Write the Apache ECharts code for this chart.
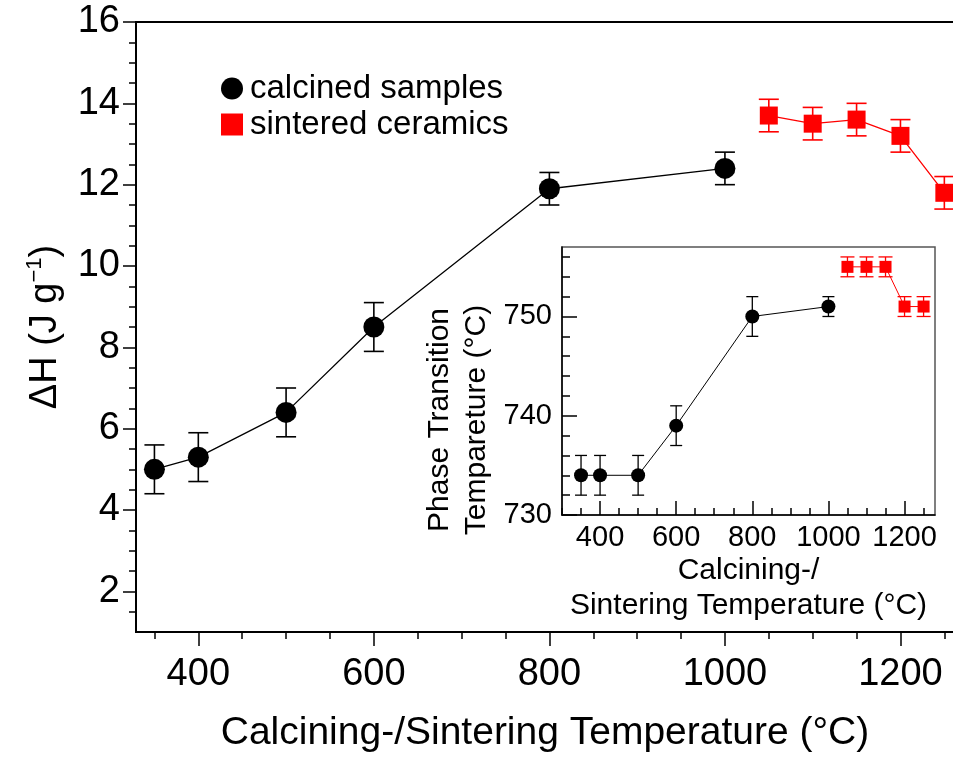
<!DOCTYPE html>
<html>
<head>
<meta charset="utf-8">
<script src="https://cdn.jsdelivr.net/npm/echarts@6/dist/echarts.min.js"></script>
<style>
  html, body { margin: 0; padding: 0; background: #fff; }
  #chart { width: 953px; height: 760px; }
</style>
</head>
<body>
<div id="chart"></div>
<script>
// main plot: enthalpy of the transition
var calcT = [350, 400, 500, 600, 800, 1000];
var calcDH = [5.0, 5.3, 6.4, 8.5, 11.9, 12.4];
var calcDHErr = [0.6, 0.6, 0.6, 0.6, 0.4, 0.4];
var sintT = [1050, 1100, 1150, 1200, 1250];
var sintDH = [13.7, 13.5, 13.6, 13.2, 11.8];
var sintDHErr = [0.4, 0.4, 0.4, 0.4, 0.4];

// inset: phase transition temperature
var calcTc = [734, 734, 734, 739, 750, 751];
var calcTcErr = [2, 2, 2, 2, 2, 1];
var sintTc = [755, 755, 755, 751, 751];
var sintTcErr = [1, 1, 1, 1, 1];

// ticks
var mainXMajor = [400, 600, 800, 1000, 1200];
var mainXMinor = [350, 450, 500, 550, 650, 700, 750, 850, 900, 950, 1050, 1100, 1150, 1250];
var mainYMajor = [2, 4, 6, 8, 10, 12, 14, 16];
var insetXMajor = [400, 600, 800, 1000, 1200];
var insetXMinor = [300, 350, 450, 500, 550, 650, 700, 750, 850, 900, 950, 1050, 1100, 1150, 1250];
var insetYMajor = [730, 740, 750];

function minorSteps(from, to, step, majors) {
    var out = [];
    for (var v = from; v <= to + 1e-9; v += step) {
        var r = Math.round(v * 100) / 100;
        if (majors.indexOf(r) < 0) out.push(r);
    }
    return out;
}
var mainYMinor = minorSteps(1.5, 16, 0.5, mainYMajor);
var insetYMinor = minorSteps(732, 756, 2, insetYMajor);

var FONT = '"Liberation Sans", Arial, sans-serif';

function pairs(xs, ys) {
    return xs.map(function (x, i) { return [x, ys[i]]; });
}
function errs(xs, ys, es) {
    return xs.map(function (x, i) { return [x, ys[i] - es[i], ys[i] + es[i]]; });
}

function errorBar(capW, color, width) {
    return function (params, api) {
        var lo = api.coord([api.value(0), api.value(1)]);
        var hi = api.coord([api.value(0), api.value(2)]);
        var h = capW / 2;
        var st = { stroke: color, lineWidth: width };
        return {
            type: 'group',
            children: [
                { type: 'line', shape: { x1: lo[0], y1: lo[1], x2: hi[0], y2: hi[1] }, style: st },
                { type: 'line', shape: { x1: lo[0] - h, y1: lo[1], x2: lo[0] + h, y2: lo[1] }, style: st },
                { type: 'line', shape: { x1: hi[0] - h, y1: hi[1], x2: hi[0] + h, y2: hi[1] }, style: st }
            ]
        };
    };
}

function valAxis(gi, pos, min, max, ticks, len, opts) {
    var a = {
        type: 'value', gridIndex: gi, position: pos, min: min, max: max,
        splitLine: { show: false },
        axisLine: { show: false },
        axisTick: { show: true, customValues: ticks, length: len, inside: opts.inside,
            lineStyle: { color: '#000', width: opts.tw || 1.5 } },
        axisLabel: { show: false }
    };
    if (opts.labels) {
        a.axisLine = { show: true, onZero: false, lineStyle: { color: '#000', width: opts.lw || 2 } };
        a.axisLabel = { show: true, customValues: ticks, color: '#000', fontFamily: FONT,
            fontSize: opts.fs, margin: opts.margin,
            formatter: function (v) { return String(v); } };
    }
    if (opts.name) {
        a.name = opts.name;
        a.nameLocation = 'middle';
        a.nameGap = opts.nameGap;
        a.nameTextStyle = opts.nameStyle;
    }
    return a;
}

var chart = echarts.init(document.getElementById('chart'));

var option = {
    animation: false,
    backgroundColor: '#fff',
    grid: [
        { left: 136, top: 22, width: 818, height: 610, show: true, borderColor: '#000', borderWidth: 2,
          outerBoundsMode: 'none', containLabel: false },
        { left: 562, top: 247, width: 373, height: 268, show: true, backgroundColor: '#fff',
          borderColor: '#555', borderWidth: 1.5, outerBoundsMode: 'none', containLabel: false }
    ],
    legend: {
        left: 216, top: 67, orient: 'vertical',
        itemWidth: 22, itemHeight: 22, itemGap: 3,
        textStyle: { fontFamily: FONT, fontSize: 33, color: '#000', lineHeight: 33, padding: [0, 0, 0, 2] },
        data: [
            { name: 'calcined samples', icon: 'circle' },
            { name: 'sintered ceramics', icon: 'rect' }
        ]
    },
    xAxis: [
        valAxis(0, 'bottom', 329, 1261, mainXMajor, 14, {
            labels: true, fs: 38, margin: 24, inside: false,
            name: 'Calcining-/Sintering Temperature (°C)', nameGap: 82,
            nameStyle: { fontFamily: FONT, fontSize: 39, color: '#000' }
        }),
        valAxis(0, 'bottom', 329, 1261, mainXMinor, 7, { inside: false }),
        valAxis(1, 'bottom', 300, 1280, insetXMajor, 14, {
            labels: true, fs: 29, margin: 8, inside: true, lw: 1.5,
            name: 'Calcining-/\nSintering Temperature (°C)', nameGap: 36,
            nameStyle: { fontFamily: FONT, fontSize: 30, color: '#000', lineHeight: 35 }
        }),
        valAxis(1, 'bottom', 300, 1280, insetXMinor, 7, { inside: true })
    ],
    yAxis: [
        valAxis(0, 'left', 1, 16, mainYMajor, 13, {
            labels: true, fs: 38, margin: 16, inside: false,
            name: '{a|ΔH (J g}{s|−1}{a|)}', nameGap: 68,
            nameStyle: {
                rich: {
                    a: { fontFamily: FONT, fontSize: 38, color: '#000', lineHeight: 44 },
                    s: { fontFamily: FONT, fontSize: 22, color: '#000', lineHeight: 22, verticalAlign: 'top' }
                }
            }
        }),
        valAxis(0, 'left', 1, 16, mainYMinor, 7, { inside: false }),
        valAxis(1, 'left', 730, 757, insetYMajor, 15, { labels: true, fs: 29, margin: 10, inside: true, lw: 1.5 }),
        valAxis(1, 'left', 730, 757, insetYMinor, 8, { inside: true })
    ],
    graphic: [
        {
            type: 'text', x: 458, y: 420, rotation: Math.PI / 2,
            style: {
                text: 'Phase Transition\nTempareture (°C)',
                fontFamily: FONT, fontSize: 30, lineHeight: 37,
                fill: '#000', align: 'center', verticalAlign: 'middle'
            }
        }
    ],
    series: [
        {
            type: 'custom', name: 'calcErr', xAxisIndex: 0, yAxisIndex: 0, z: 1,
            renderItem: errorBar(20, '#000', 1.6), data: errs(calcT, calcDH, calcDHErr)
        },
        {
            type: 'custom', name: 'sintErr', xAxisIndex: 0, yAxisIndex: 0, z: 1,
            renderItem: errorBar(20, '#ff0000', 1.6), data: errs(sintT, sintDH, sintDHErr)
        },
        {
            type: 'line', name: 'calcined samples', xAxisIndex: 0, yAxisIndex: 0, z: 3,
            symbol: 'circle', symbolSize: 21, color: '#000',
            lineStyle: { color: '#000', width: 1.3 },
            data: pairs(calcT, calcDH)
        },
        {
            type: 'line', name: 'sintered ceramics', xAxisIndex: 0, yAxisIndex: 0, z: 3,
            symbol: 'rect', symbolSize: 18, color: '#ff0000',
            lineStyle: { color: '#ff0000', width: 1.3 },
            data: pairs(sintT, sintDH)
        },
        {
            type: 'custom', name: 'calcErrInset', xAxisIndex: 2, yAxisIndex: 2, z: 5,
            renderItem: errorBar(12, '#000', 1.3), data: errs(calcT, calcTc, calcTcErr)
        },
        {
            type: 'custom', name: 'sintErrInset', xAxisIndex: 2, yAxisIndex: 2, z: 5,
            renderItem: errorBar(14, '#ff0000', 1.3), data: errs(sintT, sintTc, sintTcErr)
        },
        {
            type: 'line', name: 'calcInset', xAxisIndex: 2, yAxisIndex: 2, z: 6,
            symbol: 'circle', symbolSize: 14, color: '#000',
            lineStyle: { color: '#000', width: 1 },
            data: pairs(calcT, calcTc)
        },
        {
            type: 'line', name: 'sintInset', xAxisIndex: 2, yAxisIndex: 2, z: 6,
            symbol: 'rect', symbolSize: 12, color: '#ff0000',
            lineStyle: { color: '#ff0000', width: 1 },
            data: pairs(sintT, sintTc)
        }
    ]
};

chart.setOption(option);
</script>
</body>
</html>
